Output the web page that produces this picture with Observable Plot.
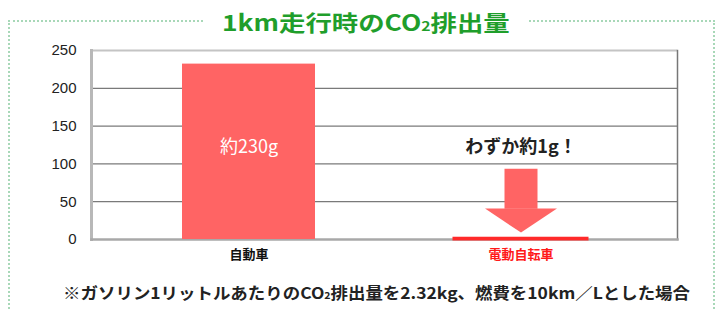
<!DOCTYPE html>
<html>
<head>
<meta charset="utf-8">
<script src="https://cdn.jsdelivr.net/npm/d3@7"></script>
<script src="https://cdn.jsdelivr.net/npm/@observablehq/plot@0.6"></script>
<style>
  html, body { margin: 0; padding: 0; background: #fff; }
  #wrap { position: relative; width: 721px; height: 309px; overflow: hidden; font-family: "Noto Sans CJK JP", "Noto Sans", sans-serif; }
  #border { position: absolute; left: 8px; top: 20px; width: 707px; height: 320px; border: 2px dotted #a8d8b8; box-sizing: border-box; }
  #title { position: absolute; left: 203px; top: 4px; width: 325px; height: 34px; background: #fff; text-align: center; color: #1f9e2b; font-size: 22px; font-weight: bold; line-height: 34px; white-space: nowrap; }
  #title span.inner { display: inline-block; transform: scaleX(1.2); transform-origin: center; }
  #chart { position: absolute; left: 0; top: 40px; }
  #note { position: absolute; left: 16px; width: 721px; top: 280px; text-align: center; font-size: 16px; font-weight: bold; color: #222; white-space: nowrap; }
  #note span.inner { display: inline-block; transform: scaleX(1.09); transform-origin: center; }
  sub { font-size: 0.6em; vertical-align: baseline; }
</style>
</head>
<body>
<div id="wrap">
  <div id="border"></div>
  <div id="title"><span class="inner">1km走行時のCO<sub>2</sub>排出量</span></div>
  <div id="chart"></div>
  <div id="note"><span class="inner">※ガソリン1リットルあたりのCO<sub>2</sub>排出量を2.32kg、燃費を10km／Lとした場合</span></div>
</div>
<script>
// Data
const categories = ["自動車", "電動自転車"];
const values = [232, 1];
const barLabels = ["約230g", ""];
const categoryColors = ["#111111", "#ff1a1a"];
const yTicks = [0, 50, 100, 150, 200, 250];
const annotationText = "わずか約1g！";
const annotationValue = 122;
const barLabelValue = 122;
const arrowShaftTop = 93;
const arrowShaftBottom = 40;
const arrowHeadValue = 25;

const data = categories.map((c, i) => ({cat: c, value: values[i], label: barLabels[i], color: categoryColors[i]}));

// Flat down-pointing triangle symbol for arrow head
const headSymbol = {
  draw(context, size) {
    const w = 36, h = 12;
    context.moveTo(-w, -h);
    context.lineTo(w, -h);
    context.lineTo(0, h);
    context.closePath();
  }
};

const barColor = "#ff6464";

const chart = Plot.plot({
  width: 721,
  height: 230,
  marginLeft: 91,
  marginRight: 44,
  marginTop: 10,
  marginBottom: 31,
  style: {background: "transparent", fontFamily: "'Liberation Sans', Arial, sans-serif"},
  x: {domain: categories, paddingInner: 0.512, paddingOuter: 0.331, axis: null},
  y: {domain: [0, 250], ticks: yTicks, tickSize: 0, tickPadding: 15, label: null},
  color: {type: "identity"},
  marks: [
    Plot.ruleY(yTicks.filter(d => d > 0 && d < 250), {stroke: "#7a7a7a", strokeWidth: 1.2, strokeOpacity: 1}),
    Plot.ruleY([250], {stroke: "#c4c4c4", strokeWidth: 2}),
    Plot.frame({anchor: "right", stroke: "#777", strokeWidth: 1.5}),
    Plot.frame({anchor: "left", stroke: "#b8b8b8", strokeWidth: 3}),
    Plot.frame({anchor: "bottom", stroke: "#a8a8a8", strokeWidth: 2.5}),
    Plot.barY(data.filter(d => d.value > 5), {x: "cat", y: "value", fill: barColor}),
    Plot.barY(data.filter(d => d.value <= 5), {x: "cat", y: "value", fill: "#ff2a2a", stroke: "#ff2a2a", strokeWidth: 3}),
    Plot.axisY({ticks: yTicks, tickSize: 0, tickPadding: 15, fontSize: 15, fill: "#222", label: null}),
    Plot.text(data.filter(d => d.label), {x: "cat", y: () => barLabelValue, text: "label", fill: "white", fontSize: 18, fontFamily: "'Noto Sans CJK JP', sans-serif"}),
    Plot.ruleX([categories[1]], {x: d => d, y1: arrowShaftTop, y2: arrowShaftBottom, stroke: barColor, strokeWidth: 33}),
    Plot.dot([categories[1]], {x: d => d, y: () => arrowHeadValue, symbol: headSymbol, fill: barColor, r: 10}),
    Plot.text([annotationText], {x: () => categories[1], y: () => annotationValue, text: d => d, fontSize: 18, fontWeight: "bold", fill: "#222", fontFamily: "'Noto Sans CJK JP', sans-serif"}),
    Plot.text(data, {x: "cat", y: () => 0, text: "cat", fill: "color", dy: 15, fontSize: 13, fontWeight: "bold", fontFamily: "'Noto Sans CJK JP', sans-serif"})
  ]
});
document.getElementById("chart").appendChild(chart);
</script>
</body>
</html>
